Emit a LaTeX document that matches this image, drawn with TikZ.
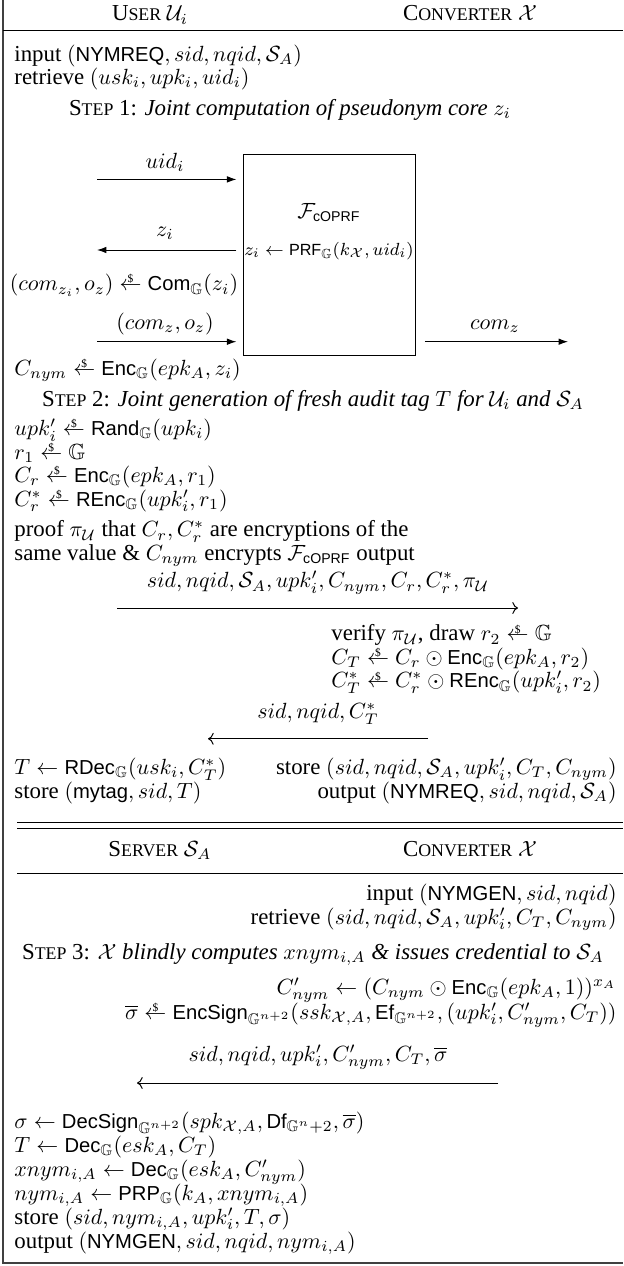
\documentclass[tikz,border=0pt]{standalone}
\usepackage{amsmath,amssymb}
\usepackage[no-math]{fontspec}
\setmainfont{Liberation Serif}[Scale=1.04]
\setsansfont{Liberation Sans}[Scale=0.92]
\usetikzlibrary{arrows.meta}
\newcommand\Alg[1]{\text{\sffamily #1}}
\newcommand\smp{\mathrel{\overset{\smash{\raisebox{-0.45ex}{\fontsize{5pt}{5pt}\selectfont\$}}}{\leftarrow}}}
\newcommand\fsc[2]{#1{\fontsize{7.8pt}{9pt}\selectfont #2}}
\newcommand\GG{\mathbb{G}}
\begin{document}
\begin{tikzpicture}[x=0.455pt,y=-0.455pt,
 lt/.style={anchor=base west,inner sep=0pt},
 rt/.style={anchor=base east,inner sep=0pt},
 ct/.style={anchor=base,inner sep=0pt},
 hrule/.style={line width=0.45pt},
 frameedge/.style={line width=0.9pt, black!75},
 msg/.style={-{To}, line width=0.45pt},
 barr/.style={-{Latex[length=4.3pt,width=3pt]}, line width=0.45pt}]
\useasboundingbox (0,0) rectangle (623,1266);
% frame
\coordinate (fTL) at (3,0);
\coordinate (fBL) at (3,1263);
\coordinate (fBR) at (623,1263);
\draw[frameedge] (fTL) -- (fBL) -- (fBR);
\coordinate (l1a) at (3,30); \coordinate (l1b) at (623,30);
\draw[hrule] (l1a) -- (l1b);
\coordinate (d1a) at (17,822.7); \coordinate (d1b) at (623,822.7);
\coordinate (d2a) at (17,828.3); \coordinate (d2b) at (623,828.3);
\draw[hrule] (d1a) -- (d1b);
\draw[hrule] (d2a) -- (d2b);
\coordinate (l2a) at (17,873); \coordinate (l2b) at (623,873);
\draw[hrule] (l2a) -- (l2b);

% headers
\node[ct] (hU) at (150,21) {\fsc{U}{SER} $\mathcal{U}_i$};
\node[ct] (hX) at (470,21) {\fsc{C}{ONVERTER} $\mathcal{X}$};

\node[lt] (in1) at (14,61) {input $(\Alg{NYMREQ}, sid, nqid, \mathcal{S}_A)$};
\node[lt] (re1) at (14,84.5) {retrieve $(usk_i, upk_i, uid_i)$};
\node[ct] (st1) at (290,115) {\fsc{S}{TEP} 1: \textit{Joint computation of pseudonym core} $z_i$};

% F_cOPRF box
\node[draw, line width=0.45pt, inner sep=0pt, minimum width=78.3pt, minimum height=91.5pt, anchor=north west] (box) at (243,154) {};
\node[ct] (fname) at (329,218) {$\mathcal{F}_{\Alg{cOPRF}}$};
\node[ct] (prf) at (329,255) {\footnotesize $z_i \leftarrow \Alg{PRF}_{\GG}(k_{\mathcal{X}}, uid_i)$};

\coordinate (uidS) at (97,179.4);
\draw[barr] (uidS) -- ([xshift=-3pt]uidS -| box.west);
\node[ct] (uidL) at (165,168) {$uid_i$};

\coordinate (ziE) at (97,250);
\draw[barr] ([xshift=-3pt]ziE -| box.west) -- (ziE);
\node[ct] (ziL) at (165,236.6) {$z_i$};

\node[ct] (com) at (124,290.7) {$(com_{z_i}, o_z) \smp \Alg{Com}_{\GG}(z_i)$};

\coordinate (coS) at (97,341.7);
\draw[barr] (coS) -- ([xshift=-3pt]coS -| box.west);
\node[ct] (coL) at (165,329.5) {$(com_z, o_z)$};

\coordinate (czE) at (568,341.7);
\draw[barr] ([xshift=4pt]czE -| box.east) -- (czE);
\node[ct] (czL) at (495,329.5) {$com_z$};

% step 2
\node[lt] (cnym) at (14,375.4) {$C_{nym} \smp \Alg{Enc}_{\GG}(epk_A, z_i)$};
\node[ct] (st2) at (313,406) {\fsc{S}{TEP} 2: \textit{Joint generation of fresh audit tag $T$ for $\mathcal{U}_i$ and $\mathcal{S}_A$}};
\node[lt] (upk) at (14,435.6) {$upk_i' \smp \Alg{Rand}_{\GG}(upk_i)$};
\node[lt] (r1) at (14,459.1) {$r_1 \smp \GG$};
\node[lt] (cr) at (14,482.6) {$C_r \smp \Alg{Enc}_{\GG}(epk_A, r_1)$};
\node[lt] (crs) at (14,506) {$C_r^* \smp \Alg{REnc}_{\GG}(upk_i', r_1)$};
\node[lt] (pf1) at (14,536.7) {proof $\pi_{\mathcal{U}}$ that $C_r, C_r^*$ are encryptions of the};
\node[lt] (pf2) at (14,560.2) {same value \& $C_{nym}$ encrypts $\mathcal{F}_{\Alg{cOPRF}}$ output};

\coordinate (m1s) at (117,608); \coordinate (m1e) at (518,608);
\draw[msg] (m1s) -- (m1e);
\node[ct] (m1L) at (318,587.7) {$sid, nqid, \mathcal{S}_A, upk_i', C_{nym}, C_r, C_r^*, \pi_{\mathcal{U}}$};

\node[lt] (ver) at (331,640.8) {verify $\pi_{\mathcal{U}}$, draw $r_2 \smp \GG$};
\node[lt] (ct) at (331,664.3) {$C_T \smp C_r \odot \Alg{Enc}_{\GG}(epk_A, r_2)$};
\node[lt] (cts) at (331,687.8) {$C_T^* \smp C_r^* \odot \Alg{REnc}_{\GG}(upk_i', r_2)$};

\coordinate (m2s) at (428,738.8); \coordinate (m2e) at (208,738.8);
\draw[msg] (m2s) -- (m2e);
\node[ct] (m2L) at (318,718.4) {$sid, nqid, C_T^*$};

\node[lt] (tdec) at (14,774.5) {$T \leftarrow \Alg{RDec}_{\GG}(usk_i, C_T^*)$};
\node[rt] (stx) at (617,774.5) {store $(sid, nqid, \mathcal{S}_A, upk_i', C_T, C_{nym})$};
\node[lt] (stu) at (14,798) {store $(\Alg{mytag}, sid, T)$};
\node[rt] (outx) at (617,798) {output $(\Alg{NYMREQ}, sid, nqid, \mathcal{S}_A)$};

% second part
\node[ct] (hS) at (160,856) {\fsc{S}{ERVER} $\mathcal{S}_A$};
\node[ct] (hX2) at (470,856) {\fsc{C}{ONVERTER} $\mathcal{X}$};

\node[rt] (in2) at (617,900) {input $(\Alg{NYMGEN}, sid, nqid)$};
\node[rt] (re2) at (617,924) {retrieve $(sid, nqid, \mathcal{S}_A, upk_i', C_T, C_{nym})$};
\node[ct] (st3) at (313,959) {\fsc{S}{TEP} 3: \textit{$\mathcal{X}$ blindly computes $xnym_{i,A}$ \& issues credential to $\mathcal{S}_A$}};
\node[rt] (cnp) at (617,994) {$C_{nym}' \leftarrow (C_{nym} \odot \Alg{Enc}_{\GG}(epk_A, 1))^{x_A}$};
\node[rt] (sgb) at (617,1019) {$\overline{\sigma} \smp \Alg{EncSign}_{\GG^{n+2}}(ssk_{\mathcal{X},A}, \Alg{Ef}_{\GG^{n+2}}, (upk_i', C_{nym}', C_T))$};

\coordinate (m3s) at (498,1083); \coordinate (m3e) at (137,1083);
\draw[msg] (m3s) -- (m3e);
\node[ct] (m3L) at (318,1061) {$sid, nqid, upk_i', C_{nym}', C_T, \overline{\sigma}$};

\node[lt] (sg) at (14,1128) {$\sigma \leftarrow \Alg{DecSign}_{\GG^{n+2}}(spk_{\mathcal{X},A}, \Alg{Df}_{\GG^n+2}, \overline{\sigma})$};
\node[lt] (tdc) at (14,1152) {$T \leftarrow \Alg{Dec}_{\GG}(esk_A, C_T)$};
\node[lt] (xn) at (14,1176) {$xnym_{i,A} \leftarrow \Alg{Dec}_{\GG}(esk_A, C_{nym}')$};
\node[lt] (ny) at (14,1200) {$nym_{i,A} \leftarrow \Alg{PRP}_{\GG}(k_A, xnym_{i,A})$};
\node[lt] (sts) at (14,1224) {store $(sid, nym_{i,A}, upk_i', T, \sigma)$};
\node[lt] (ots) at (14,1248) {output $(\Alg{NYMGEN}, sid, nqid, nym_{i,A})$};
\end{tikzpicture}
\end{document}
